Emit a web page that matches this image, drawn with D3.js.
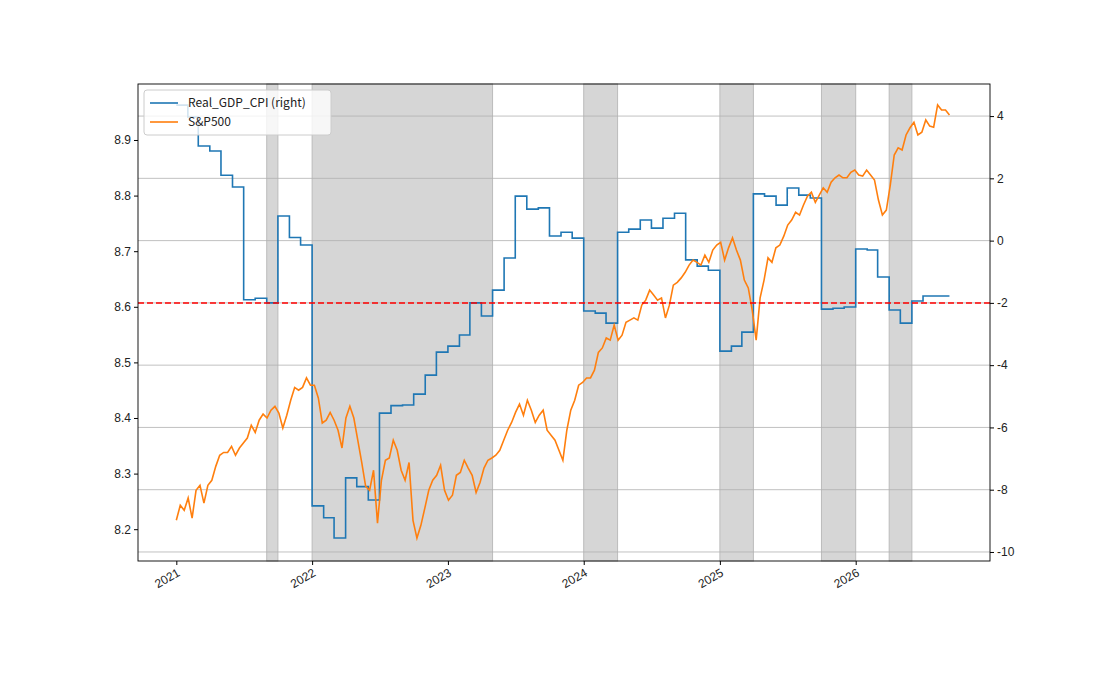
<!DOCTYPE html>
<html><head><meta charset="utf-8">
<script src="https://cdn.jsdelivr.net/npm/d3@7"></script>
<style>body{margin:0;background:#fff}svg{font-family:"Noto Sans CJK KR","DejaVu Sans",sans-serif}</style>
</head><body><svg id="c" width="1100" height="700"></svg>
<script>
// monthly Real_GDP_CPI, starting Jan 2021 (right axis)
const gdpCpi = [4.35,3.97,3.04,2.88,2.1,1.72,-1.9,-1.85,-2.0,0.79,0.1,-0.14,
  -8.52,-8.9,-9.55,-7.62,-7.9,-8.33,-5.54,-5.3,-5.28,-4.93,-4.32,-3.58,
  -3.39,-3.03,-2.0,-2.42,-1.59,-0.56,1.43,1.01,1.05,0.15,0.27,0.08,
  -2.26,-2.33,-2.65,0.27,0.37,0.66,0.4,0.72,0.88,-0.62,-0.82,-0.95,
  -3.55,-3.39,-2.94,1.5,1.43,1.14,1.69,1.46,1.37,-2.2,-2.17,-2.13,
  -0.27,-0.3,-1.17,-2.23,-2.65,-1.94,-1.78,-1.78,-1.78];
// S&P500 (log), roughly weekly-and-a-half spacing from Jan 2021 to Sep 2026
const sp500 = [8.216,8.243,8.234,8.256,8.220,8.270,8.279,8.247,8.279,8.288,8.313,8.333,8.338,8.338,8.349,8.333,
  8.346,8.355,8.364,8.387,8.374,8.396,8.407,8.400,8.414,8.421,8.409,8.382,8.405,8.432,8.455,8.450,8.455,8.472,
  8.459,8.459,8.436,8.391,8.396,8.410,8.396,8.378,8.346,8.400,8.421,8.400,8.360,8.320,8.277,8.270,8.306,8.211,
  8.288,8.324,8.328,8.360,8.342,8.306,8.288,8.320,8.216,8.184,8.207,8.238,8.270,8.288,8.297,8.315,8.270,8.252,
  8.261,8.297,8.302,8.324,8.310,8.297,8.266,8.284,8.310,8.324,8.328,8.333,8.342,8.360,8.378,8.392,8.410,8.425,
  8.405,8.432,8.414,8.392,8.405,8.414,8.378,8.369,8.360,8.342,8.324,8.378,8.414,8.432,8.459,8.464,8.472,8.472,
  8.486,8.518,8.526,8.544,8.540,8.567,8.540,8.549,8.572,8.576,8.580,8.576,8.603,8.612,8.630,8.621,8.612,8.616,
  8.580,8.603,8.639,8.644,8.652,8.662,8.675,8.684,8.680,8.675,8.693,8.680,8.702,8.711,8.716,8.684,8.706,8.724,
  8.702,8.684,8.648,8.634,8.594,8.540,8.616,8.648,8.688,8.680,8.706,8.711,8.727,8.747,8.756,8.770,8.765,8.783,
  8.799,8.806,8.788,8.801,8.814,8.806,8.824,8.832,8.837,8.832,8.832,8.842,8.846,8.837,8.835,8.846,8.837,8.828,
  8.792,8.765,8.774,8.819,8.873,8.886,8.882,8.909,8.922,8.932,8.909,8.914,8.936,8.925,8.923,8.963,8.954,8.954,8.945];
// shaded periods [start, end]
const shaded = [["2021-09-01","2021-10-01"],["2022-01-01","2023-05-01"],["2024-01-01","2024-04-01"],
  ["2025-01-01","2025-04-01"],["2025-10-01","2026-01-01"],["2026-04-01","2026-06-01"]];
const leftTicks = [8.2,8.3,8.4,8.5,8.6,8.7,8.8,8.9];
const rightTicks = [4,2,0,-2,-4,-6,-8,-10];
const refLine = -2;

const svg = d3.select("#c");
const L = 138, R = 990, T = 84, B = 561;
const x = d3.scaleTime().domain([new Date(2020,8,20), new Date(2026,11,28)]).range([L,R]);
const yl = d3.scaleLinear().domain([8.1428,9.0007]).range([B,T]);
const yr = d3.scaleLinear().domain([-10.29,5.03]).range([B,T]);

const gdpData = gdpCpi.map((v,i)=>({d:new Date(2021,i,1),v}));
gdpData.push({d:new Date(2026,8,10),v:gdpCpi[gdpCpi.length-1]});
const t0 = +new Date(2021,0,1), t1 = +new Date(2026,8,10);
const spData = sp500.map((v,i)=>({d:new Date(t0+(t1-t0)*i/(sp500.length-1)),v}));

svg.selectAll("rect.sh").data(shaded).join("rect")
  .attr("x",d=>x(new Date(d[0]))).attr("width",d=>x(new Date(d[1]))-x(new Date(d[0])))
  .attr("y",T).attr("height",B-T).attr("fill","#d6d6d6").attr("stroke","#bbb");

svg.selectAll("line.grid").data(rightTicks).join("line")
  .attr("x1",L).attr("x2",R).attr("y1",d=>yr(d)).attr("y2",d=>yr(d))
  .attr("stroke","#b0b0b0").attr("stroke-width",0.8);

svg.append("path").datum(gdpData)
  .attr("d",d3.line().x(d=>x(d.d)).y(d=>yr(d.v)).curve(d3.curveStepAfter))
  .attr("fill","none").attr("stroke","#1f77b4").attr("stroke-width",1.6);
svg.append("path").datum(spData)
  .attr("d",d3.line().x(d=>x(d.d)).y(d=>yl(d.v)))
  .attr("fill","none").attr("stroke","#ff7f0e").attr("stroke-width",1.6);

svg.append("line").attr("x1",L).attr("x2",R).attr("y1",yr(refLine)).attr("y2",yr(refLine))
  .attr("stroke","red").attr("stroke-width",1.5).attr("stroke-dasharray","6,3");

svg.append("rect").attr("x",L).attr("y",T).attr("width",R-L).attr("height",B-T)
  .attr("fill","none").attr("stroke","#000").attr("stroke-width",0.9);

const gl = svg.append("g").attr("transform",`translate(${L},0)`)
  .call(d3.axisLeft(yl).tickValues(leftTicks).tickFormat(d3.format(".1f")).tickSize(4));
const gr = svg.append("g").attr("transform",`translate(${R},0)`)
  .call(d3.axisRight(yr).tickValues(rightTicks).tickFormat(d=>String(d)).tickSize(4));
const gx = svg.append("g").attr("transform",`translate(0,${B})`)
  .call(d3.axisBottom(x).ticks(d3.timeYear.every(1)).tickFormat(d3.timeFormat("%Y")).tickSize(4));
[gl,gr,gx].forEach(g=>{g.select(".domain").remove();g.selectAll("text").attr("font-size",12).attr("fill","#222");});
gx.selectAll("text").attr("text-anchor","end").attr("dx","-0.3em").attr("dy","0.6em").attr("transform","rotate(-30)");

const lg = svg.append("g").attr("transform","translate(144,90)");
lg.append("rect").attr("width",187).attr("height",45).attr("rx",3).attr("fill","#fff").attr("fill-opacity",0.8).attr("stroke","#ccc");
[["Real_GDP_CPI (right)","#1f77b4"],["S&P500","#ff7f0e"]].forEach((e,i)=>{
  lg.append("line").attr("x1",6).attr("x2",34).attr("y1",13+i*19).attr("y2",13+i*19).attr("stroke",e[1]).attr("stroke-width",1.6);
  lg.append("text").attr("x",44).attr("y",17+i*19).attr("font-size",12).attr("fill","#222").text(e[0]);
});
</script></body></html>
